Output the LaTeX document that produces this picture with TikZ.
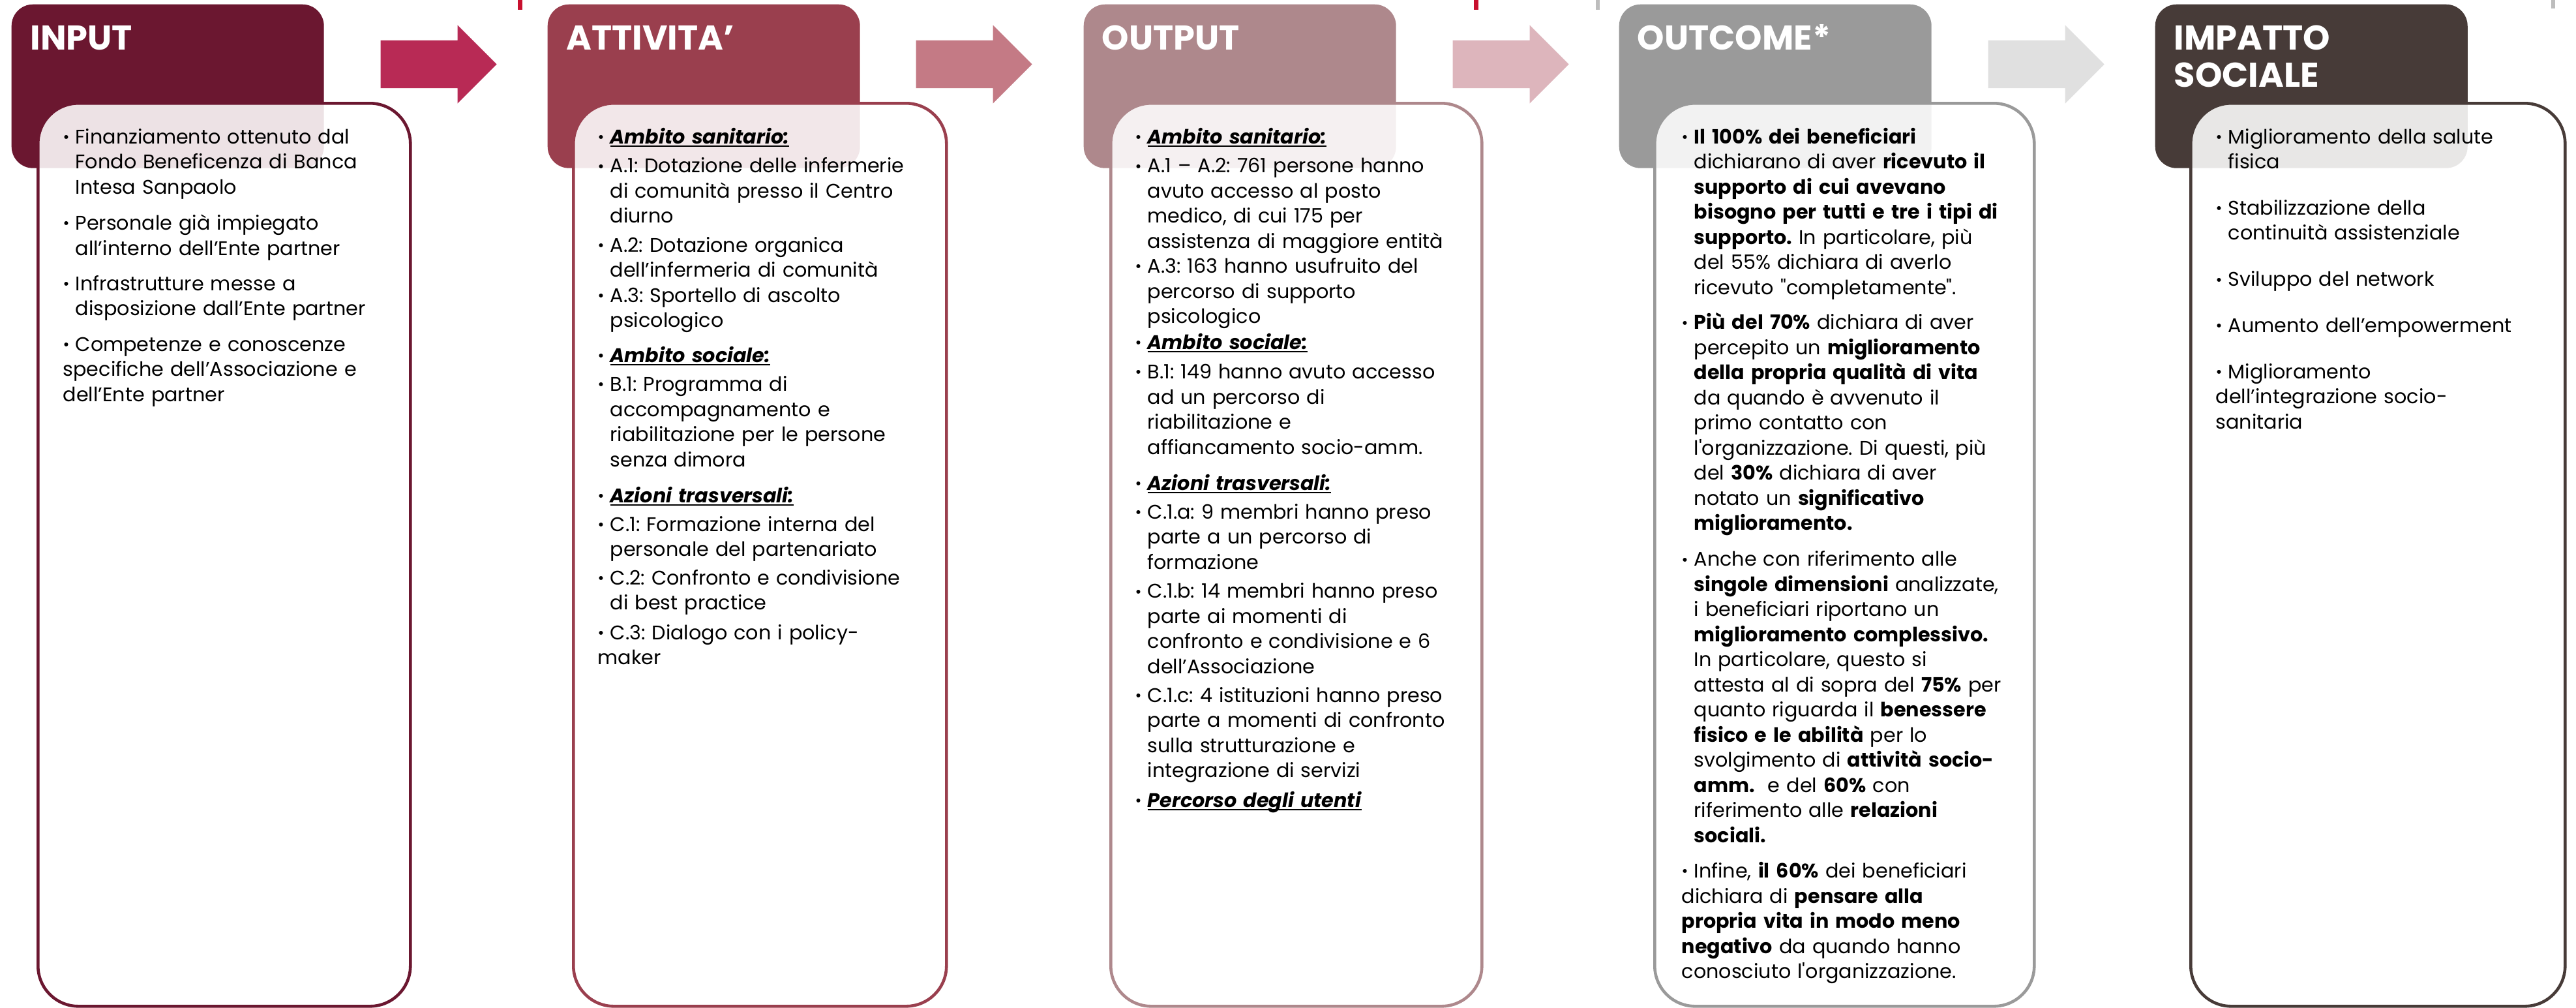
\documentclass[tikz,border=0pt]{standalone}
\usepackage{fontspec}
\setmainfont{Poppins}
\usetikzlibrary{shapes.arrows,positioning,calc}
\frenchspacing

\definecolor{inputwine}{HTML}{6B1730}
\definecolor{activityred}{HTML}{9A3F4E}
\definecolor{outputrose}{HTML}{AE888C}
\definecolor{outcomegray}{HTML}{9A9A9A}
\definecolor{impactbrown}{HTML}{473B38}
\definecolor{arrowone}{HTML}{B82A55}
\definecolor{arrowtwo}{HTML}{C47A85}
\definecolor{arrowthree}{HTML}{DDB5BC}
\definecolor{arrowfour}{HTML}{E0E0E0}
\definecolor{tickred}{HTML}{C8102E}
\definecolor{tickgray}{HTML}{BDBDBD}

\newsavebox{\ambbox}
\newcommand{\dotmark}{\raisebox{0.1ex}{\scalebox{0.8}{•}}}
\newcommand{\bitem}[2][0pt]{\par\vspace{#1}\hangindent=5.4pt\hangafter=1\noindent\makebox[5.4pt][l]{\dotmark}\rule{0pt}{7.5pt}\begingroup\let\\\newline#2\endgroup}
\newcommand{\amb}[1]{\sbox{\ambbox}{\textbf{\textit{#1}}}\rlap{\rule[-1.3pt]{\wd\ambbox}{0.5pt}}\usebox{\ambbox}}

\tikzset{
  headbox/.style={rounded corners=3.3mm, minimum width=47.9mm, minimum height=25.1mm, anchor=north west, inner sep=0},
  listbox/.style={draw, line width=1.3pt, fill=white, fill opacity=0.88, rounded corners=6.2mm, minimum height=138.4mm, anchor=north west, inner sep=0},
  headtitle/.style={anchor=north west, inner sep=0, text=white, align=left, font=\fontsize{15}{16.2}\selectfont\bfseries},
  listtext/.style={anchor=north west, inner sep=0, text width=60mm, align=left, font=\fontsize{8.6}{10.95}\selectfont},
  flowarrow/.style={single arrow, anchor=tail, minimum height=17.8mm, inner xsep=0, inner ysep=3.6mm, single arrow head extend=2.35mm},
}

\begin{document}
\begin{tikzpicture}[x=1mm,y=-1mm]
  \fill[white] (0,0) rectangle (395,154.4);
  \useasboundingbox (0,0) rectangle (395,154.4);

  % small marks on the top edge
  \fill[tickred] (79.4,0) rectangle (80.1,1.5);
  \fill[tickred] (226.0,0) rectangle (226.7,1.5);
  \fill[tickgray] (244.7,0) rectangle (245.3,1.5);
  \fill[tickgray] (391.2,0) rectangle (391.8,1.3);

  % INPUT
  \node[headbox, fill=inputwine] (inhead) at (1.7,0.6) {};
  \node[headtitle] (intitle) at ([xshift=2.9mm,yshift=-2.8mm]inhead.north west) {\rule{0pt}{12pt}INPUT};
  \node[listbox, draw=inputwine, minimum width=57.1mm] (inbox) at (5.6,15.6) {};
  \node[listtext] (intext) at ([xshift=4mm,yshift=-2.5mm]inbox.north west) {%
    \bitem{Finanziamento ottenuto dal\\Fondo Beneficenza di Banca\\Intesa Sanpaolo}
    \bitem[4.8pt]{Personale già impiegato\\all’interno dell’Ente partner}
    \bitem[4.5pt]{Infrastrutture messe a\\disposizione dall’Ente partner}
    \bitem[4.5pt]{Competenze e conoscenze\\specifiche dell’Associazione e\\dell’Ente partner}};

  % ATTIVITA'
  \node[headbox, fill=activityred] (acthead) at (83.9,0.6) {};
  \node[headtitle] (acttitle) at ([xshift=2.9mm,yshift=-2.8mm]acthead.north west) {\rule{0pt}{12pt}ATTIVITA’};
  \node[listbox, draw=activityred, minimum width=57.2mm] (actbox) at (87.7,15.6) {};
  \node[listtext] (acttext) at ([xshift=3.9mm,yshift=-2.5mm]actbox.north west) {%
    \bitem{\amb{Ambito sanitario:}}
    \bitem[1.7pt]{A.1: Dotazione delle infermerie\\di comunità presso il Centro\\diurno}
    \bitem[1.7pt]{A.2: Dotazione organica\\dell’infermeria di comunità}
    \bitem{A.3: Sportello di ascolto\\psicologico}
    \bitem[4.3pt]{\amb{Ambito sociale:}}
    \bitem[1.7pt]{B.1: Programma di\\accompagnamento e\\riabilitazione per le persone\\senza dimora}
    \bitem[4.8pt]{\amb{Azioni trasversali:}}
    \bitem[1.5pt]{C.1: Formazione interna del\\personale del partenariato}
    \bitem[1.5pt]{C.2: Confronto e condivisione\\di best practice}
    \bitem[2pt]{C.3: Dialogo con i policy-\\maker}};

  % OUTPUT
  \node[headbox, fill=outputrose] (outhead) at (166.1,0.6) {};
  \node[headtitle] (outtitle) at ([xshift=2.8mm,yshift=-2.8mm]outhead.north west) {\rule{0pt}{12pt}OUTPUT};
  \node[listbox, draw=outputrose, minimum width=56.9mm] (outbox) at (170.1,15.6) {};
  \node[listtext] (outtext) at ([xshift=3.9mm,yshift=-2.5mm]outbox.north west) {%
    \bitem{\amb{Ambito sanitario:}}
    \bitem[1.7pt]{A.1 – A.2: 761 persone hanno\\avuto accesso al posto\\medico, di cui 175 per\\assistenza di maggiore entità}
    \bitem{A.3: 163 hanno usufruito del\\percorso di supporto\\psicologico}
    \bitem[0.3pt]{\amb{Ambito sociale:}}
    \bitem[2pt]{B.1: 149 hanno avuto accesso\\ad un percorso di\\riabilitazione e\\affiancamento socio-amm.}
    \bitem[4.8pt]{\amb{Azioni trasversali:}}
    \bitem[1.5pt]{C.1.a: 9 membri hanno preso\\parte a un percorso di\\formazione}
    \bitem[1.8pt]{C.1.b: 14 membri hanno preso\\parte ai momenti di\\confronto e condivisione e 6\\dell’Associazione}
    \bitem[1.5pt]{C.1.c: 4 istituzioni hanno preso\\parte a momenti di confronto\\sulla strutturazione e\\integrazione di servizi}
    \bitem[2pt]{\amb{Percorso degli utenti}}};

  % OUTCOME*
  \node[headbox, fill=outcomegray] (ochead) at (248.2,0.6) {};
  \node[headtitle] (octitle) at ([xshift=2.8mm,yshift=-2.8mm]ochead.north west) {\rule{0pt}{12pt}OUTCOME*};
  \node[listbox, draw=outcomegray, minimum width=58.2mm] (ocbox) at (253.5,15.6) {};
  \node[listtext] (octext) at ([xshift=4.3mm,yshift=-2.5mm]ocbox.north west) {%
    \bitem{\textbf{Il 100\% dei beneficiari}\\dichiarano di aver \textbf{ricevuto il}\\\textbf{supporto di cui avevano}\\\textbf{bisogno per tutti e tre i tipi di}\\\textbf{supporto.} In particolare, più\\del 55\% dichiara di averlo\\ricevuto \textquotedbl completamente\textquotedbl.}
    \bitem[4.3pt]{\textbf{Più del 70\%} dichiara di aver\\percepito un \textbf{miglioramento}\\\textbf{della propria qualità di vita}\\da quando è avvenuto il\\primo contatto con\\l\textquotesingle organizzazione. Di questi, più\\del \textbf{30\%} dichiara di aver\\notato un \textbf{significativo}\\\textbf{miglioramento.}}
    \bitem[4.8pt]{Anche con riferimento alle\\\textbf{singole dimensioni} analizzate,\\i beneficiari riportano un\\\textbf{miglioramento complessivo.}\\In particolare, questo si\\attesta al di sopra del \textbf{75\%} per\\quanto riguarda il \textbf{benessere}\\\textbf{fisico e le abilità} per lo\\svolgimento di \textbf{attività socio-}\\\textbf{amm.}\ \ e del \textbf{60\%} con\\riferimento alle \textbf{relazioni}\\\textbf{sociali.}}
    \bitem[4.5pt]{Infine, \textbf{il 60\%} dei beneficiari\\dichiara di \textbf{pensare alla}\\\textbf{propria vita in modo meno}\\\textbf{negativo} da quando hanno\\conosciuto l\textquotesingle organizzazione.}};

  % IMPATTO SOCIALE
  \node[headbox, fill=impactbrown] (imphead) at (330.4,0.6) {};
  \node[headtitle] (imptitle) at ([xshift=2.9mm,yshift=-2.8mm]imphead.north west) {\rule{0pt}{12pt}IMPATTO\\SOCIALE};
  \node[listbox, draw=impactbrown, minimum width=57.4mm] (impbox) at (335.7,15.6) {};
  \node[listtext] (imptext) at ([xshift=4mm,yshift=-2.5mm]impbox.north west) {%
    \bitem{Miglioramento della salute\\fisica}
    \bitem[9.2pt]{Stabilizzazione della\\continuità assistenziale}
    \bitem[9.2pt]{Sviluppo del network}
    \bitem[9.2pt]{Aumento dell’empowerment}
    \bitem[9.2pt]{Miglioramento\\dell’integrazione socio-\\sanitaria}};

  % arrows between the stages
  \node[flowarrow, fill=arrowone] (arrin) at (58.3,9.85) {};
  \node[flowarrow, fill=arrowtwo] (arract) at (140.4,9.85) {};
  \node[flowarrow, fill=arrowthree] (arrout) at (222.7,9.85) {};
  \node[flowarrow, fill=arrowfour] (arroc) at (304.8,9.85) {};
\end{tikzpicture}
\end{document}
